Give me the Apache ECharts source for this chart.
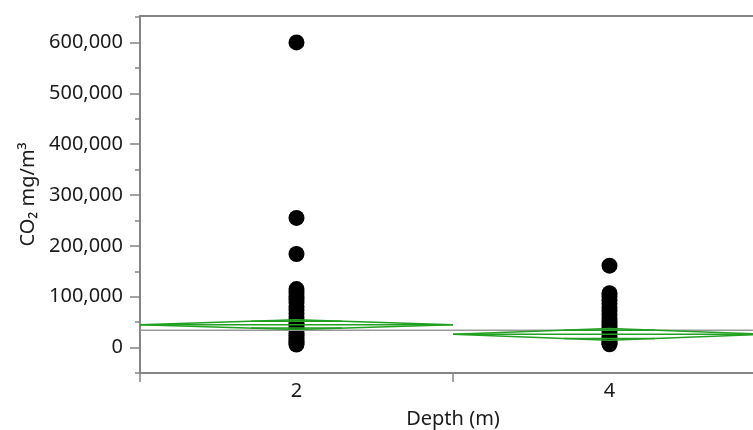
<!DOCTYPE html>
<html>
<head>
<meta charset="utf-8">
<script src="https://cdn.jsdelivr.net/npm/echarts@6/dist/echarts.min.js"></script>
<style>
  html, body { margin: 0; padding: 0; background: #fff; }
  #chart { width: 753px; height: 430px; }
</style>
</head>
<body>
<div id="chart"></div>
<script>
// groups on the x axis (each group occupies a span, label at centre)
var depthGroups = [2, 4];
var groupSpans = [[1, 3], [3, 5]];

// CO2 readings (mg/m3) per depth
var co2Depth2 = [600000, 255000, 184000, 115000, 108000, 100000, 94000, 88000, 81000, 74000, 67000,
    60000, 54000, 48000, 43000, 38000, 33000, 28000, 24000, 20000, 16000, 12000, 9000, 6000];
var co2Depth4 = [161000, 107000, 100000, 93000, 86000, 79000, 72000, 65000, 58000, 51000, 45000,
    39000, 33000, 27000, 22000, 17000, 12000, 9000, 6500];

// means diamonds
var groupMeans = [45000, 26000];
var ciUpper = [54500, 37500];
var ciLower = [35500, 14500];
var overlapUpper = [51700, 34100];
var overlapLower = [38300, 17900];
var grandMean = 34000;

// axis ticks
var yLabelValues = [0, 100000, 200000, 300000, 400000, 500000, 600000];
var yMinorTicks = [-50000, 50000, 150000, 250000, 350000, 450000, 550000, 650000];
var xTickValues = [1, 3, 5];

var axisGray = '#858585';
var diamondGreen = '#22a022';
var textColor = '#1a1a1a';
var fontFamily = '"Noto Sans", "Open Sans", sans-serif';

var chartDom = document.getElementById('chart');
var myChart = echarts.init(chartDom);

function lineSeries(data, color, width) {
    return {
        type: 'line',
        data: data,
        symbol: 'none',
        silent: true,
        animation: false,
        clip: true,
        xAxisIndex: 0,
        yAxisIndex: 0,
        lineStyle: { color: color, width: width }
    };
}

var series = [];
// grand mean
series.push(lineSeries([[groupSpans[0][0], grandMean], [groupSpans[groupSpans.length - 1][1], grandMean]], '#9a9a9a', 1.5));

depthGroups.forEach(function(g, i) {
    var s0 = groupSpans[i][0], s1 = groupSpans[i][1];
    var m = groupMeans[i];
    var half = 0.29;
    series.push(lineSeries([[s0, m], [g, ciUpper[i]], [s1, m], [g, ciLower[i]], [s0, m]], diamondGreen, 1.5));
    series.push(lineSeries([[s0, m], [s1, m]], diamondGreen, 1.5));
    series.push(lineSeries([[g - half, overlapUpper[i]], [g + half, overlapUpper[i]]], diamondGreen, 1.5));
    series.push(lineSeries([[g - half, overlapLower[i]], [g + half, overlapLower[i]]], diamondGreen, 1.5));
});

[co2Depth2, co2Depth4].forEach(function(vals, i) {
    series.push({
        type: 'scatter',
        symbolSize: 16,
        itemStyle: { color: '#000', opacity: 1 },
        animation: false,
        data: vals.map(function(v) { return [depthGroups[i], v]; })
    });
});

// the plot continues past the right edge of the picture: x=5 would sit at ~766px
var xMaxVisible = 4.917;

var option = {
    textStyle: { fontFamily: fontFamily },
    grid: { left: 140, right: 0, top: 16, bottom: 57, containLabel: false, outerBoundsMode: 'none' },
    xAxis: [{
        type: 'value',
        min: 1,
        max: xMaxVisible,
        position: 'bottom',
        axisLine: { show: true, onZero: false, lineStyle: { color: axisGray, width: 2 } },
        axisTick: { show: true, customValues: xTickValues, length: 9, lineStyle: { color: axisGray, width: 1.5 } },
        axisLabel: {
            customValues: depthGroups,
            fontSize: 20,
            color: textColor,
            margin: 8,
            fontFamily: fontFamily
        },
        splitLine: { show: false },
        name: 'Depth (m)',
        nameLocation: 'middle',
        nameGap: 36,
        nameTextStyle: { fontSize: 20, color: textColor, fontFamily: fontFamily, padding: [0, 0, 0, 13] }
    }, {
        type: 'value',
        min: 1,
        max: xMaxVisible,
        position: 'top',
        axisLine: { show: true, onZero: false, lineStyle: { color: axisGray, width: 2 } },
        axisTick: { show: false },
        axisLabel: { show: false },
        splitLine: { show: false }
    }],
    yAxis: [{
        type: 'value',
        min: -50000,
        max: 652000,
        position: 'left',
        axisLine: { show: true, onZero: false, lineStyle: { color: axisGray, width: 2 } },
        axisTick: { show: true, customValues: yLabelValues, length: 10, lineStyle: { color: axisGray, width: 1.5 } },
        axisLabel: {
            customValues: yLabelValues,
            fontSize: 20,
            color: textColor,
            margin: 17,
            fontFamily: fontFamily,
            formatter: function(v) { return Number(v).toLocaleString('en-US'); }
        },
        splitLine: { show: false },
        name: 'CO₂ mg/m³',
        nameLocation: 'middle',
        nameGap: 102,
        nameTextStyle: { fontSize: 20, color: textColor, fontFamily: fontFamily }
    }, {
        type: 'value',
        min: -50000,
        max: 652000,
        position: 'left',
        axisLine: { show: false },
        axisTick: { show: true, customValues: yMinorTicks, length: 5, lineStyle: { color: axisGray, width: 1.5 } },
        axisLabel: { show: false },
        splitLine: { show: false }
    }],
    series: series
};

myChart.setOption(option);
window.addEventListener('resize', function() { myChart.resize(); });
</script>
</body>
</html>
